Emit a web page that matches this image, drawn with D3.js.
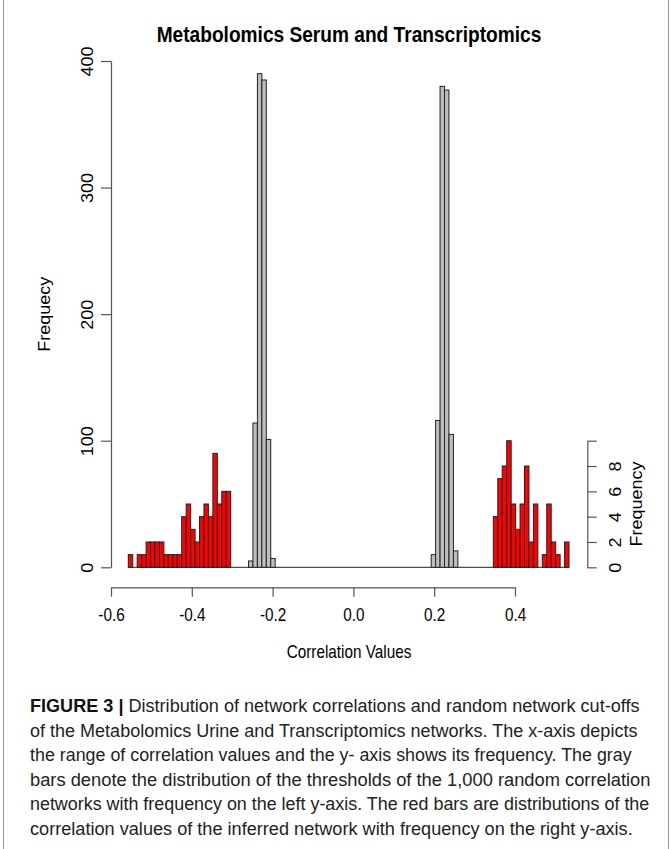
<!DOCTYPE html>
<html>
<head>
<meta charset="utf-8">
<script src="https://cdn.jsdelivr.net/npm/d3@7"></script>
<style>
  html, body { margin: 0; padding: 0; background: #ffffff; }
  svg { display: block; }
</style>
</head>
<body>
<svg id="chart" width="672" height="849"></svg>
<script>
// ---------------- data ----------------
const chartTitle = "Metabolomics Serum and Transcriptomics";
const xLabel = "Correlation Values";
const yLeftLabel = "Frequecy";
const yRightLabel = "Frequency";

const binWidth = 0.01102;               // histogram bin width (correlation units)
const histRange = [-0.5572, 0.5338];    // full range of the histogram breaks

// gray bars: random network thresholds (left axis)
const grayLeftStarts  = [-0.2597, -0.2487, -0.2376, -0.2266, -0.2156, -0.2046];
const grayLeftCounts  = [5, 114, 390, 385, 101, 7];
const grayRightStarts = [0.1925, 0.2035, 0.2145, 0.2255, 0.2366, 0.2476];
const grayRightCounts = [10, 116, 380, 377, 105, 13];

// red bars: inferred network correlations (right axis)
const redLeftStarts = [-0.5572, -0.5462, -0.5352, -0.5241, -0.5131, -0.5021, -0.4911, -0.4801,
                       -0.4690, -0.4580, -0.4470, -0.4360, -0.4250, -0.4139, -0.4029, -0.3919,
                       -0.3809, -0.3699, -0.3588, -0.3478, -0.3368, -0.3258, -0.3148];
const redLeftCounts = [1, 0, 1, 1, 2, 2, 2, 2, 1, 1, 1, 1, 4, 5, 3, 2, 4, 5, 4, 9, 5, 6, 6];
const redRightStarts = [0.3464, 0.3574, 0.3684, 0.3795, 0.3905, 0.4015, 0.4125, 0.4235, 0.4346,
                        0.4456, 0.4566, 0.4676, 0.4786, 0.4897, 0.5007, 0.5117, 0.5227];
const redRightCounts = [4, 7, 8, 10, 5, 3, 5, 8, 2, 5, 0, 1, 5, 2, 1, 0, 2];

const xTicks = [-0.6, -0.4, -0.2, 0.0, 0.2, 0.4];
const xTickLabels = ["-0.6", "-0.4", "-0.2", "0.0", "0.2", "0.4"];
const yLeftTicks = [0, 100, 200, 300, 400];
const yLeftTickLabels = ["0", "100", "200", "300", "400"];
const yRightTicks = [0, 2, 4, 6, 8, 10];
const yRightTickLabels = ["0", "2", "4", "6", "8", ""];

const captionBold = "FIGURE 3 |";
const captionLines = [
  " Distribution of network correlations and random network cut-offs",
  "of the Metabolomics Urine and Transcriptomics networks. The x-axis depicts",
  "the range of correlation values and the y- axis shows its frequency. The gray",
  "bars denote the distribution of the thresholds of the 1,000 random correlation",
  "networks with frequency on the left y-axis. The red bars are distributions of the",
  "correlation values of the inferred network with frequency on the right y-axis."
];

// ---------------- layout ----------------
const W = 672, H = 849;
const FONT = "'Liberation Sans', Arial, Helvetica, sans-serif";
const SX = 0.85;                 // horizontal squeeze of horizontal text
const SR = 0.93;                 // squeeze of rotated text
const baseY = 567.3;             // zero level
const axisY = 587.3;             // x-axis line
const leftAxisX = 111;
const rightAxisX = 587.3;

const svg = d3.select("#chart");
svg.append("rect").attr("width", W).attr("height", H).attr("fill", "#fff");

// frame lines
svg.append("line").attr("x1", 3.5).attr("x2", 3.5).attr("y1", 0).attr("y2", H)
  .attr("stroke", "#9a9a9a").attr("stroke-width", 1);
svg.append("line").attr("x1", 668.5).attr("x2", 668.5).attr("y1", 0).attr("y2", H)
  .attr("stroke", "#9a9a9a").attr("stroke-width", 1);

const x = d3.scaleLinear().domain([-0.6, 0.4]).range([111, 515]);
const yL = d3.scaleLinear().domain([0, 400]).range([baseY, 61]);
const yR = d3.scaleLinear().domain([0, 10]).range([baseY, 440.7]);

function bars(starts, counts, yScale, fill) {
  const data = starts.map((s, i) => ({ s, c: counts[i] })).filter(d => d.c > 0);
  svg.append("g").selectAll("rect").data(data).join("rect")
    .attr("x", d => x(d.s))
    .attr("width", d => x(d.s + binWidth) - x(d.s))
    .attr("y", d => yScale(d.c))
    .attr("height", d => yScale(0) - yScale(d.c))
    .attr("fill", fill)
    .attr("stroke", "#222")
    .attr("stroke-width", 1);
}

// zero-count bins line (histogram baseline)
svg.append("line")
  .attr("x1", x(histRange[0])).attr("x2", x(histRange[1]))
  .attr("y1", yL(0)).attr("y2", yL(0))
  .attr("stroke", "#222").attr("stroke-width", 1);

bars(grayLeftStarts, grayLeftCounts, yL, "#bebebe");
bars(grayRightStarts, grayRightCounts, yL, "#bebebe");
bars(redLeftStarts, redLeftCounts, yR, "#ff0000");
bars(redRightStarts, redRightCounts, yR, "#ff0000");

function styleAxis(g) {
  g.select(".domain").attr("stroke", "#555").attr("stroke-width", 1.2);
  g.selectAll(".tick line").attr("stroke", "#555").attr("stroke-width", 1.2);
  g.selectAll("text").attr("fill", "#000").style("font-family", FONT).style("font-size", "18px");
}

// x axis
const gx = svg.append("g").attr("transform", `translate(0,${axisY})`)
  .call(d3.axisBottom(x).tickValues(xTicks).tickFormat((d, i) => xTickLabels[i])
    .tickSize(9.4).tickSizeOuter(0));
styleAxis(gx);
gx.selectAll("text").attr("y", 34).attr("dy", null).attr("transform", `scale(${SX},1)`);

// left y axis
const gyl = svg.append("g").attr("transform", `translate(${leftAxisX},0)`)
  .call(d3.axisLeft(yL).tickValues(yLeftTicks).tickFormat((d, i) => yLeftTickLabels[i])
    .tickSize(10).tickSizeOuter(0));
styleAxis(gyl);
gyl.selectAll("text").attr("x", 0).attr("y", 0).attr("dy", null)
  .attr("text-anchor", "middle")
  .attr("transform", `translate(-18,0) scale(${SR},1) rotate(-90)`);

// right y axis
const gyr = svg.append("g").attr("transform", `translate(${rightAxisX},0)`)
  .call(d3.axisRight(yR).tickValues(yRightTicks).tickFormat((d, i) => yRightTickLabels[i])
    .tickSize(9.4).tickSizeOuter(0));
styleAxis(gyr);
gyr.selectAll("text").attr("x", 0).attr("y", 0).attr("dy", null)
  .attr("text-anchor", "middle")
  .attr("transform", `translate(33.5,0) scale(${SR},1) rotate(-90)`);

// titles
svg.append("text").text(chartTitle)
  .attr("transform", `translate(349,42) scale(${SX},1)`)
  .attr("text-anchor", "middle").style("font-family", FONT)
  .style("font-size", "22.5px").style("font-weight", "bold").attr("fill", "#000");

svg.append("text").text(xLabel)
  .attr("transform", `translate(349,658) scale(${SX},1)`)
  .attr("text-anchor", "middle").style("font-family", FONT)
  .style("font-size", "18px").attr("fill", "#000");

svg.append("text").text(yLeftLabel)
  .attr("transform", `translate(50,${(yL(0) + yL(400)) / 2}) scale(${SR},1) rotate(-90)`)
  .attr("text-anchor", "middle").style("font-family", FONT)
  .style("font-size", "18px").attr("fill", "#000");

svg.append("text").text(yRightLabel)
  .attr("transform", `translate(642,${(yR(0) + yR(10)) / 2}) scale(${SR},1) rotate(-90)`)
  .attr("text-anchor", "middle").style("font-family", FONT)
  .style("font-size", "18px").attr("fill", "#000");

// caption
const capX = 30;
const capY0 = 712, capPitch = 24.6;
const capRight = [640, 638, 632, 651, 650, 633];
captionLines.forEach((line, i) => {
  const t = svg.append("text")
    .attr("x", 0).attr("y", 0)
    .style("font-family", FONT).style("font-size", "18.5px").attr("fill", "#222");
  if (i === 0) {
    t.append("tspan").text(captionBold).style("font-weight", "bold").attr("fill", "#111");
  }
  t.append("tspan").text(line);
  const w = t.node().getComputedTextLength();
  const s = (capRight[i] - capX) / w;
  t.attr("transform", `translate(${capX},${capY0 + i * capPitch}) scale(${s},1)`);
});
</script>
</body>
</html>
